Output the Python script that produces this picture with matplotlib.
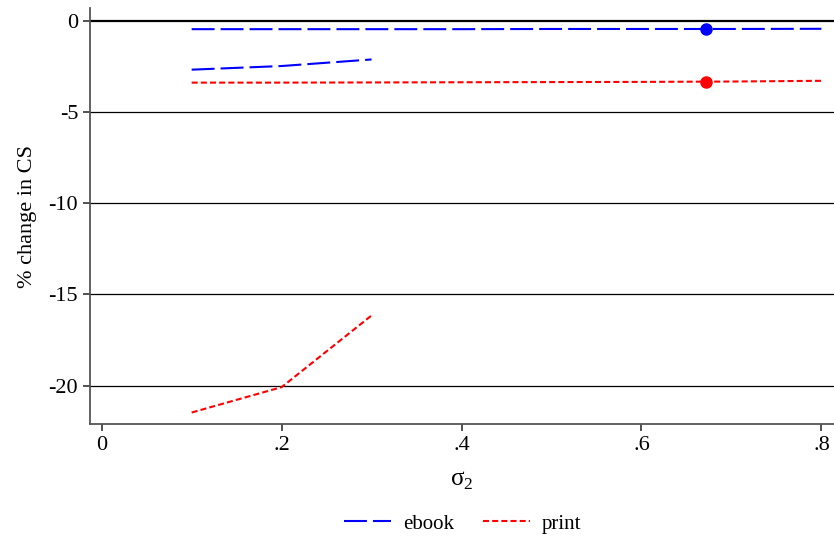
import matplotlib
matplotlib.use("Agg")
import matplotlib.pyplot as plt

plt.rcParams["font.family"] = ["Liberation Serif", "DejaVu Serif"]
plt.rcParams["mathtext.fontset"] = "custom"
plt.rcParams["mathtext.rm"] = "Liberation Serif"
plt.rcParams["axes.unicode_minus"] = False

# flat lines over the full sigma_2 grid
sigma_full = [0.1, 0.2, 0.3, 0.4, 0.5, 0.6, 0.7, 0.8]
ebook_full = [-0.46, -0.46, -0.46, -0.46, -0.45, -0.45, -0.45, -0.44]
print_full = [-3.39, -3.39, -3.38, -3.37, -3.36, -3.35, -3.33, -3.29]

# short segments
sigma_short = [0.1, 0.2, 0.3]
ebook_short = [-2.68, -2.48, -2.12]
print_short = [-21.47, -20.08, -16.15]

# highlighted points
dot_x = 0.672
ebook_dot = -0.45
print_dot = -3.36

yticks = [0, -5, -10, -15, -20]
xticks = [0, 0.2, 0.4, 0.6, 0.8]
xlabels = ["0", ".2", ".4", ".6", ".8"]

fig = plt.figure(figsize=(8.34, 5.4), dpi=100)
ax = fig.add_axes([90 / 834, 116 / 540, 744 / 834, 416 / 540])

ebook_style = dict(color="blue", lw=1.5, dashes=(11, 2.9))
print_style = dict(color="red", lw=1.5, dashes=(2.9, 1.5))

for y in yticks[1:]:
    ax.axhline(y, color="black", lw=0.9, zorder=1)
ax.axhline(0, color="black", lw=1.6, zorder=1)

ax.plot(sigma_full, ebook_full, label="ebook", **ebook_style)
ax.plot(sigma_short, ebook_short, **ebook_style)
ax.plot(sigma_full, print_full, label="print", **print_style)
ax.plot(sigma_short, print_short, **print_style)

ax.plot([dot_x], [ebook_dot], "o", color="blue", ms=8)
ax.plot([dot_x], [print_dot], "o", color="red", ms=8)

ax.set_xlim(-0.013, 0.814)
ax.set_ylim(-22.1, 0.7)
ax.set_xticks(xticks)
ax.set_xticklabels(xlabels)
ax.set_yticks(yticks)

for s in ["top", "right"]:
    ax.spines[s].set_visible(False)
for s in ["left", "bottom"]:
    ax.spines[s].set_color("#555555")
    ax.spines[s].set_linewidth(1.3)
ax.tick_params(axis="both", labelsize=16, length=5, width=1.2, color="#333333")

ax.set_xlabel("σ$_{\\mathregular{2}}$", fontsize=18, labelpad=11)
ax.set_ylabel("% change in CS", fontsize=16, labelpad=8)

fig.legend(loc="center", bbox_to_anchor=(0.555, 0.03), ncol=2, frameon=False,
           fontsize=15, handlelength=2.26, handletextpad=0.58, columnspacing=1.35)

fig.savefig("out.png", dpi=100)
